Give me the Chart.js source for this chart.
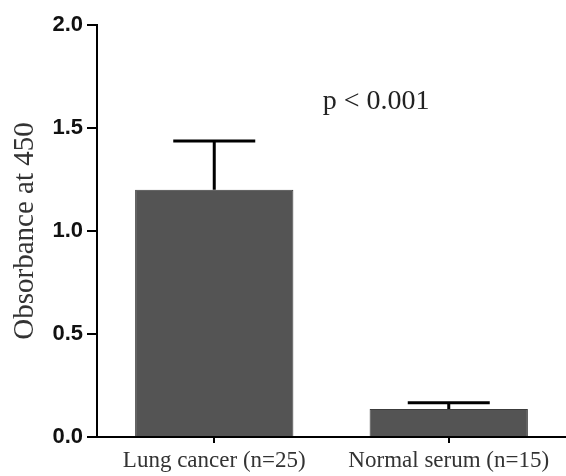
<!DOCTYPE html>
<html>
<head>
<meta charset="utf-8">
<script src="https://cdn.jsdelivr.net/npm/chart.js@4"></script>
<style>
  html, body { margin: 0; padding: 0; background: #fff; }
  #wrap { width: 566px; height: 476px; }
</style>
</head>
<body>
<div id="wrap"><canvas id="c" width="566" height="476"></canvas></div>
<script>
// group labels, means and error (upper whisker)
const groups = ['Lung cancer (n=25)', 'Normal serum (n=15)'];
const means = [1.20, 0.136];
const errors = [0.237, 0.03];
const yTicks = [0, 0.5, 1.0, 1.5, 2.0];
const pLabel = 'p < 0.001';
const pPos = [0.69, 1.63]; // category index, y value

// upper error bars with caps, plus the p-value note
const errorBars = {
  id: 'errorBars',
  afterDatasetsDraw(chart) {
    const { ctx, scales: { x, y } } = chart;
    ctx.save();
    ctx.strokeStyle = '#000';
    ctx.lineWidth = 3;
    means.forEach((m, i) => {
      const cx = x.getPixelForValue(i);
      const yTop = y.getPixelForValue(m + errors[i]);
      const yBar = y.getPixelForValue(m);
      ctx.beginPath();
      ctx.moveTo(cx, yBar);
      ctx.lineTo(cx, yTop);
      ctx.moveTo(cx - 41, yTop);
      ctx.lineTo(cx + 41, yTop);
      ctx.stroke();
    });
    ctx.fillStyle = '#222';
    ctx.font = '28px "Liberation Serif", serif';
    ctx.textAlign = 'center';
    ctx.textBaseline = 'middle';
    ctx.fillText(pLabel, x.getPixelForValue(pPos[0]), y.getPixelForValue(pPos[1]));
    ctx.restore();
  }
};

new Chart(document.getElementById('c'), {
  type: 'bar',
  data: {
    labels: groups,
    datasets: [{
      data: means,
      backgroundColor: '#545454',
      borderColor: '#3c3c3c',
      borderWidth: 1,
      barPercentage: 1,
      categoryPercentage: 0.675,
    }],
  },
  options: {
    responsive: false,
    animation: false,
    layout: { padding: { top: 25, right: 0, bottom: 0, left: 0 } },
    plugins: {
      legend: { display: false },
      tooltip: { enabled: false },
    },
    scales: {
      x: {
        afterFit(s) { s.height = 39; },
        border: { display: true, color: '#000', width: 2 },
        grid: { offset: false, drawOnChartArea: false, drawTicks: true, tickLength: 6, color: '#000', lineWidth: 2 },
        ticks: {
          padding: 4,
          color: '#333',
          font: { family: '"Liberation Serif", serif', size: 23 },
        },
      },
      y: {
        min: 0,
        max: 2,
        afterFit(s) { s.width = 97; },
        afterBuildTicks(s) { s.ticks = yTicks.map(v => ({ value: v })); },
        border: { display: true, color: '#000', width: 2 },
        grid: { drawOnChartArea: false, drawTicks: true, tickLength: 10, color: '#000', lineWidth: 2 },
        ticks: {
          padding: 4,
          color: '#111',
          font: { family: '"Liberation Sans", Arial, sans-serif', size: 22, weight: 'bold' },
          callback: v => v.toFixed(1),
        },
        title: {
          display: true,
          text: 'Obsorbance at 450',
          color: '#333',
          padding: { top: 8, bottom: 0 },
          font: { family: '"Liberation Serif", serif', size: 29 },
        },
      },
    },
  },
  plugins: [errorBars],
});
</script>
</body>
</html>
